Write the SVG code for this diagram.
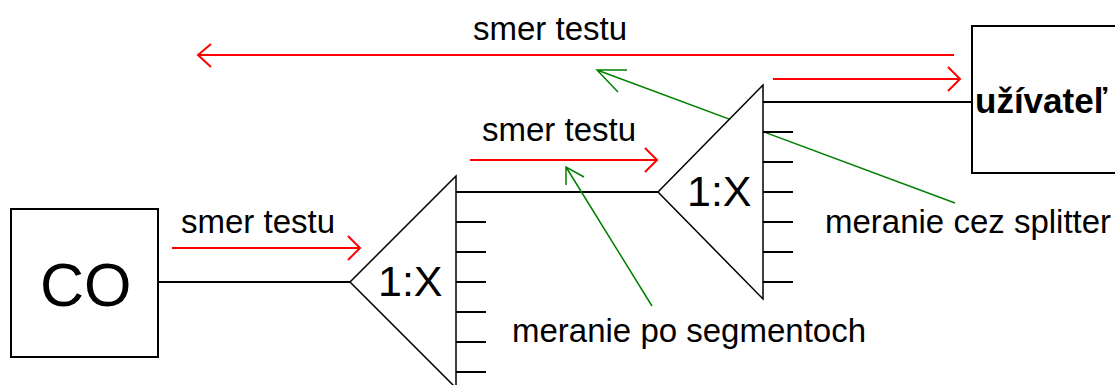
<svg xmlns="http://www.w3.org/2000/svg" width="1115" height="385" viewBox="0 0 1115 385">
<style>
.box{fill:#fff;stroke:#000;stroke-width:2}
.tri{fill:#fff;stroke:#000;stroke-width:1.5}
.blk{stroke:#000;stroke-width:2;fill:none}
.red{stroke:#ff0000;stroke-width:2;fill:none}
.grn{stroke:#008000;stroke-width:1.5;fill:none}
text{font-family:"Liberation Sans",Arial,sans-serif;fill:#000}
.lbl{font-size:33px}
.big{font-size:43px}
</style>
<rect width="1115" height="385" fill="#fff"/>
<g id="connectors">
<path class="blk" d="M158,282H350M456,192H658M763,102H972"/>
<path class="red" d="M172,248H360M348,236L360,248L348,260"/>
<path class="red" d="M470,160H657M645,148L657,160L645,172"/>
<path class="red" d="M198,55H954M211,44L198,55L211,67"/>
<path class="red" d="M773,79H960M948,67L960,79L948,91"/>
<path class="grn" d="M652,306L566,167M566,185L566,167L584,177"/>
<path class="grn" d="M955,203L597,70M627,70L597,70L618,92"/>
</g>
<g id="co">
<rect class="box" x="11" y="209" width="147" height="148"/>
<text x="40" y="306" style="font-size:61px">CO</text>
</g>
<g id="splitter1">
<path class="tri" d="M456,176L350,282L456,388Z"/>
<path class="blk" d="M486,222H456M486,252H456M486,282H456M486,312H456M486,342H456M486,372H456"/>
<text class="big" x="378" y="296">1:X</text>
</g>
<g id="splitter2">
<path class="tri" d="M763,85L658,192L763,299Z"/>
<path class="blk" d="M793,132H763M793,162H763M793,192H763M793,222H763M793,252H763M793,282H763"/>
<text class="big" x="687" y="206">1:X</text>
</g>
<g id="user">
<rect class="box" x="972" y="26" width="160" height="147"/>
<text x="975" y="113" style="font-size:35px;font-weight:bold">užívateľ</text>
</g>
<g id="labels">
<text class="lbl" x="181" y="233">smer testu</text>
<text class="lbl" x="482" y="141">smer testu</text>
<text class="lbl" x="473" y="40">smer testu</text>
<text class="lbl" x="512" y="342">meranie po segmentoch</text>
<text class="lbl" x="825" y="233">meranie cez splitter</text>
</g>
</svg>
